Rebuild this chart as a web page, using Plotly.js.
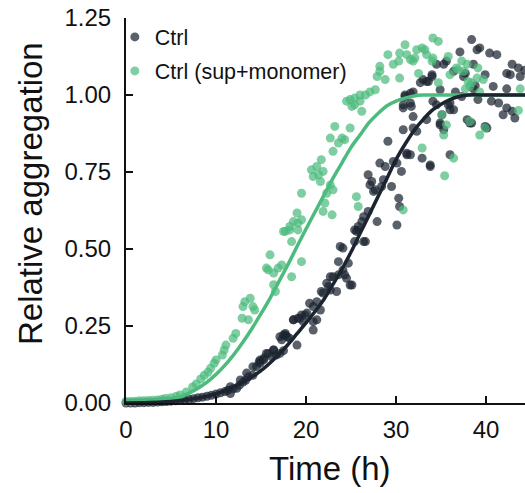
<!DOCTYPE html>
<html>
<head>
<meta charset="utf-8">
<script src="https://cdn.plot.ly/plotly-3.0.1.min.js"></script>
<style>html,body{margin:0;padding:0;background:#fff;}#chart{width:525px;height:493px;}</style>
</head>
<body>
<div id="chart"></div>
<script>
// Ctrl scatter (time h, relative aggregation)
const ctrlT = [0,0.5,1,1.5,2,2.5,3,3.5,4,4.5,5,5.5,6,6.5,7,7.5,8,8.5,9,9.5,10,10.5,11,11.3,11.6,11.6,11.9,12.3,12.6,12.7,13,13.3,13.4,13.6,14.1,14.1,14.5,14.8,14.9,14.9,15.3,15.3,15.6,15.8,16.2,16.4,16.4,16.7,17.1,17.1,17.3,17.5,17.5,17.7,17.7,17.9,18.2,18.6,18.6,19.0,19.1,19.3,19.5,19.7,19.9,20.1,20.4,20.8,20.8,20.8,21.2,21.2,21.6,21.7,21.9,22.3,22.5,22.7,22.7,23.0,23.4,23.6,23.6,23.8,24.1,24.1,24.3,24.5,24.7,24.9,25.1,25.4,25.4,25.6,25.8,25.8,26.2,26.4,26.4,26.6,26.9,26.9,27.1,27.3,27.5,27.7,27.9,28.2,28.4,28.6,28.8,29.1,29.5,29.7,30.1,30.1,30.3,30.4,30.6,30.8,30.8,30.8,31.0,31.0,31.2,31.2,31.6,31.6,31.6,31.7,31.9,31.9,31.9,32.3,32.7,32.9,33.0,33.4,33.4,33.6,33.8,33.8,34.0,34.0,34.1,34.5,34.5,34.9,34.9,34.9,35.1,35.3,35.3,35.6,35.8,36.0,36.0,36.0,36.4,36.4,36.6,37.1,37.3,37.5,37.7,37.9,38.2,38.4,38.4,38.6,38.6,38.8,39.0,39.1,39.3,39.9,39.9,40.1,40.4,40.6,40.8,41.2,41.4,41.9,42.3,42.3,42.3,42.7,42.9,42.9,43.2,43.6,43.8,44.3];
const ctrlV = [0,0,0,0.001,0.001,0.002,0.002,0.003,0.004,0.005,0.006,0.007,0.009,0.01,0.012,0.014,0.017,0.019,0.022,0.025,0.029,0.033,0.037,0.041,0.053,0.031,0.046,0.048,0.058,0.075,0.068,0.074,0.097,0.085,0.09,0.118,0.118,0.134,0.129,0.14,0.14,0.145,0.161,0.161,0.15,0.172,0.172,0.156,0.215,0.161,0.205,0.17,0.221,0.221,0.226,0.215,0.21,0.27,0.27,0.188,0.275,0.275,0.286,0.264,0.286,0.292,0.324,0.313,0.264,0.237,0.329,0.27,0.302,0.362,0.357,0.389,0.378,0.367,0.41,0.41,0.362,0.416,0.459,0.508,0.432,0.503,0.416,0.405,0.454,0.383,0.383,0.524,0.562,0.557,0.573,0.562,0.589,0.605,0.524,0.524,0.622,0.741,0.708,0.719,0.687,0.692,0.589,0.779,0.703,0.725,0.768,0.85,0.703,0.784,0.779,0.578,0.665,0.638,0.752,0.887,0.958,0.968,1.0,0.995,0.811,0.806,0.806,1.006,0.974,0.963,1.01,0.893,0.93,0.882,1.04,0.795,1.05,0.92,1.044,1.044,0.768,0.773,1.066,1.06,0.98,1.10,0.968,1.017,0.903,0.909,0.936,1.10,0.887,1.11,0.968,0.952,0.806,0.974,1.077,0.952,1.01,1.14,0.995,1.06,1.07,0.92,0.909,1.18,0.909,1.10,1.02,1.03,1.147,0.985,1.153,1.066,0.898,0.893,1.136,0.98,1.028,1.131,0.974,0.936,1.07,1.02,0.958,1.066,1.10,0.947,0.925,1.088,1.06,1.08];

// Ctrl (sup+monomer) scatter
const supT = [0,0.5,1,1.5,2,2.5,3,3.5,4,4.4,5,5.6,6,6.7,7.4,7.8,8.3,8.7,9.1,9.4,9.8,10.0,10.7,10.9,11.1,11.9,12.2,12.9,13.0,13.2,13.6,13.8,14.1,14.3,15.6,15.8,16.0,16.4,16.4,16.6,16.9,17.3,17.5,17.7,18.2,18.2,18.4,18.4,18.6,19.0,19.1,19.1,19.5,19.5,19.5,20.6,20.8,21.2,21.4,21.6,21.7,21.9,21.9,22.1,22.3,22.7,22.7,22.9,23.0,23.0,23.2,23.6,24.0,24.3,24.5,24.9,24.9,25.1,25.4,25.4,25.6,25.8,26.0,26.0,26.2,26.6,27.1,27.7,27.9,28.2,28.2,28.8,29.1,29.7,30.3,30.4,30.4,30.8,31.0,31.2,31.6,31.9,32.1,32.3,32.5,32.9,32.9,33.2,33.4,34.0,34.1,34.1,34.7,34.7,35.1,35.3,35.4,35.6,35.8,36.0,36.4,36.7,36.9,37.3,37.5,37.7,37.9,38.0,38.2,38.2,38.4,39.0,39.1,39.3,39.3,39.7,39.9,43.6,43.8];
const supV = [0.005,0.005,0.006,0.007,0.007,0.008,0.009,0.01,0.012,0.015,0.017,0.022,0.026,0.036,0.052,0.062,0.078,0.09,0.1,0.113,0.129,0.14,0.156,0.172,0.188,0.21,0.226,0.275,0.313,0.329,0.27,0.34,0.313,0.302,0.438,0.432,0.481,0.422,0.384,0.362,0.438,0.448,0.557,0.557,0.562,0.573,0.524,0.41,0.589,0.617,0.584,0.562,0.595,0.681,0.459,0.757,0.735,0.768,0.741,0.719,0.79,0.752,0.622,0.649,0.681,0.708,0.86,0.611,0.692,0.817,0.898,0.844,0.86,0.855,0.98,0.985,0.893,0.963,0.99,0.968,0.67,0.638,1.0,0.98,0.947,1.0,1.01,1.017,1.06,1.077,1.093,1.05,1.131,1.10,1.11,1.136,1.055,0.627,1.163,1.131,1.115,1.11,1.12,1.147,1.07,1.153,0.828,1.147,1.131,1.11,1.185,1.12,1.174,1.04,0.936,0.87,0.738,0.903,1.125,1.066,0.795,1.088,1.082,1.11,1.077,1.02,1.10,1.044,1.028,0.914,1.04,1.055,1.088,1.01,0.87,1.05,0.893,0.95,1.02];

// Fitted curves
const fitT = [0,2,4,5,6,7,8,9,10,11,12,13,14,15,16,17,18,19,20,21,22,23,24,25,26,27,28,29,30,31,32,33,34,35,36,37,38,40,42,44.4];
const ctrlFit = [0,0.001,0.003,0.005,0.008,0.012,0.016,0.022,0.03,0.04,0.053,0.068,0.085,0.105,0.13,0.158,0.19,0.225,0.26,0.297,0.337,0.385,0.435,0.49,0.55,0.61,0.67,0.73,0.79,0.84,0.885,0.92,0.95,0.97,0.985,0.995,1.0,1.0,1.0,1.0];
const supFit = [0.002,0.004,0.008,0.012,0.02,0.032,0.048,0.068,0.093,0.123,0.158,0.198,0.242,0.29,0.34,0.395,0.45,0.508,0.565,0.62,0.675,0.73,0.78,0.83,0.87,0.91,0.94,0.965,0.98,0.99,0.997,1.0,1.0,1.0,1.0,1.0,1.0,1.0,1.0,1.0];

const DARK = '#1c2430';
const GREEN = '#4cbb7e';
const FONT = 'Liberation Sans, Arial, sans-serif';

const traces = [
  {x: ctrlT, y: ctrlV, type: 'scatter', mode: 'markers', name: 'Ctrl', legendgroup: 'a',
   marker: {color: DARK, size: 9, opacity: 0.72}, cliponaxis: false},
  {x: supT, y: supV, type: 'scatter', mode: 'markers', name: 'Ctrl (sup+monomer)', legendgroup: 'b',
   marker: {color: GREEN, size: 9, opacity: 0.72}, cliponaxis: false},
  {x: fitT, y: supFit, type: 'scatter', mode: 'lines', showlegend: false,
   line: {color: GREEN, width: 3.5, shape: 'spline', smoothing: 0.8}},
  {x: fitT, y: ctrlFit, type: 'scatter', mode: 'lines', showlegend: false,
   line: {color: DARK, width: 3.5, shape: 'spline', smoothing: 0.8}}
];

const layout = {
  width: 525, height: 493,
  margin: {l: 126, r: 0, t: 18, b: 90, pad: 0},
  paper_bgcolor: '#fff', plot_bgcolor: '#fff',
  font: {family: FONT, color: '#111', size: 24},
  showlegend: true,
  legend: {x: -0.028, y: 1.004, xanchor: 'left', yanchor: 'top', bgcolor: 'rgba(0,0,0,0)',
           font: {size: 21.5, family: FONT, color: '#111'}, tracegroupgap: 3, traceorder: 'grouped'},
  xaxis: {range: [0, 44.33], showgrid: false, zeroline: false, showline: true, linecolor: '#111', linewidth: 2,
          ticks: 'inside', ticklen: 7, tickwidth: 2, tickcolor: '#111', tickvals: [0,10,20,30,40],
          ticktext: ['0','10','20','30','40'], tickfont: {size: 24}, ticklabelstandoff: 4},
  yaxis: {range: [0, 1.25], showgrid: false, zeroline: false, showline: true, linecolor: '#111', linewidth: 2,
          ticks: 'inside', ticklen: 7, tickwidth: 2, tickcolor: '#111', tickvals: [0,0.25,0.5,0.75,1,1.25],
          ticktext: ['0.00','0.25','0.50','0.75','1.00','1.25'], tickfont: {size: 24}, ticklabelstandoff: 8},
  annotations: [
    {text: 'Time (h)', xref: 'paper', yref: 'paper', x: 0.511, y: -0.171, xanchor: 'center', yanchor: 'middle',
     showarrow: false, font: {size: 33, family: FONT, color: '#111'}},
    {text: 'Relative aggregation', xref: 'paper', yref: 'paper', x: -0.241, y: 0.545, xanchor: 'center', yanchor: 'middle',
     textangle: -90, showarrow: false, font: {size: 33, family: FONT, color: '#111'}}
  ]
};

Plotly.newPlot('chart', traces, layout, {displayModeBar: false, staticPlot: true});
</script>
</body>
</html>
